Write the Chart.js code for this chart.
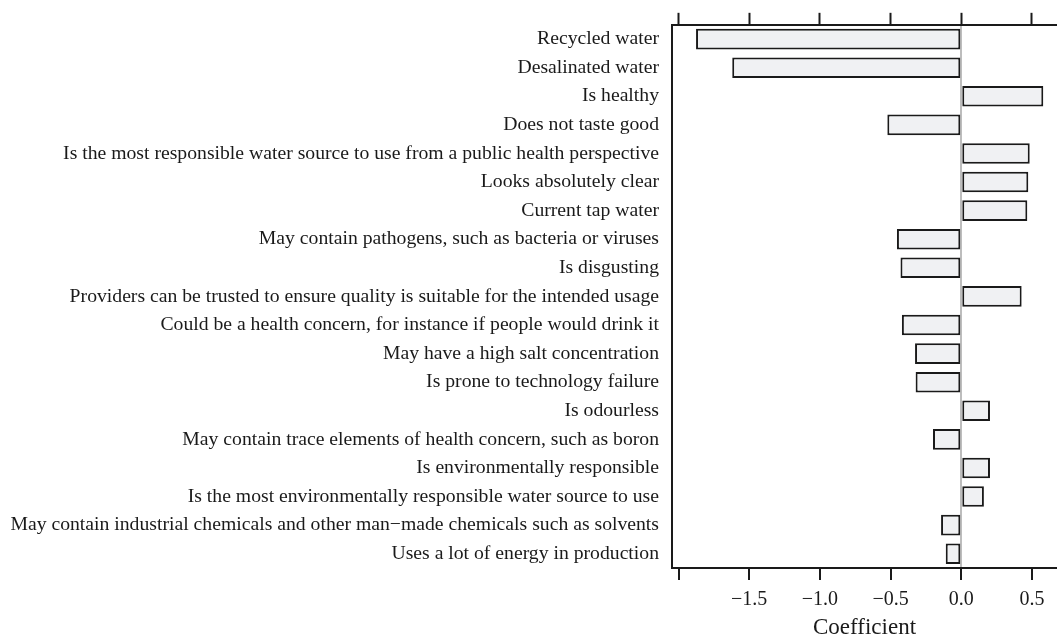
<!DOCTYPE html>
<html>
<head>
<meta charset="utf-8">
<script src="https://cdn.jsdelivr.net/npm/chart.js@4"></script>
<style>
  html, body { margin: 0; padding: 0; background: #fff; }
  #wrap { width: 1057px; height: 644px; }
</style>
</head>
<body>
<div id="wrap"><canvas id="chart"></canvas></div>
<script>
const attributes = [
  "Recycled water",
  "Desalinated water",
  "Is healthy",
  "Does not taste good",
  "Is the most responsible water source to use from a public health perspective",
  "Looks absolutely clear",
  "Current tap water",
  "May contain pathogens, such as bacteria or viruses",
  "Is disgusting",
  "Providers can be trusted to ensure quality is suitable for the intended usage",
  "Could be a health concern, for instance if people would drink it",
  "May have a high salt concentration",
  "Is prone to technology failure",
  "Is odourless",
  "May contain trace elements of health concern, such as boron",
  "Is environmentally responsible",
  "Is the most environmentally responsible water source to use",
  "May contain industrial chemicals and other man\u2212made chemicals such as solvents",
  "Uses a lot of energy in production"
];
const coefficients = [-1.876, -1.62, 0.58, -0.523, 0.484, 0.474, 0.467, -0.455, -0.43,
  0.427, -0.42, -0.327, -0.323, 0.203, -0.2, 0.203, 0.16, -0.143, -0.11];
const xTicks = [-2.0, -1.5, -1.0, -0.5, 0.0, 0.5];
const xMin = -2.046;
const xMax = 0.677;

const serif = "'Liberation Serif', 'DejaVu Serif', serif";
const ink = '#1a1a1a';

function setTicks(scale) {
  scale.ticks = xTicks.map(v => ({ value: v }));
}
function fmt(v) {
  if (v === -2) return '';
  return v.toFixed(1).replace('-', '\u2212');
}

new Chart(document.getElementById('chart'), {
  type: 'bar',
  data: {
    labels: attributes,
    datasets: [{
      data: coefficients,
      backgroundColor: '#f0f1f3',
      borderColor: ink,
      borderWidth: 2,
      borderSkipped: false,
      barPercentage: 0.72,
      categoryPercentage: 1.0
    }]
  },
  options: {
    indexAxis: 'y',
    responsive: true,
    maintainAspectRatio: false,
    animation: false,
    layout: { padding: 0 },
    plugins: {
      legend: { display: false },
      tooltip: { enabled: false }
    },
    scales: {
      x: {
        type: 'linear',
        position: 'bottom',
        min: xMin,
        max: xMax,
        afterBuildTicks: setTicks,
        afterFit: s => { s.height = 76; },
        ticks: {
          callback: v => fmt(v),
          color: ink,
          font: { family: serif, size: 20 },
          padding: 8,
          maxRotation: 0
        },
        grid: {
          drawOnChartArea: true,
          color: ctx => (ctx.tick && ctx.tick.value === 0 ? '#bdbdbd' : 'rgba(0,0,0,0)'),
          lineWidth: 2,
          tickColor: ink,
          tickLength: 12,
          tickWidth: 2
        },
        border: { display: true, color: ink, width: 2 },
        title: {
          display: true,
          text: 'Coefficient',
          color: ink,
          font: { family: serif, size: 23 },
          padding: { top: 4, bottom: 2 }
        }
      },
      x2: {
        type: 'linear',
        position: 'top',
        min: xMin,
        max: xMax,
        afterBuildTicks: setTicks,
        afterFit: s => { s.height = 24; },
        ticks: { display: false },
        grid: {
          drawOnChartArea: false,
          color: ink,
          tickColor: ink,
          tickLength: 12,
          tickWidth: 2
        },
        border: { display: true, color: ink, width: 2 }
      },
      y: {
        type: 'category',
        position: 'left',
        afterFit: s => { s.width = 672; },
        ticks: {
          color: ink,
          font: { family: serif, size: 19.7 },
          padding: 13,
          autoSkip: false
        },
        grid: { display: false, drawTicks: false },
        border: { display: true, color: ink, width: 2 }
      }
    }
  }
});
</script>
</body>
</html>
